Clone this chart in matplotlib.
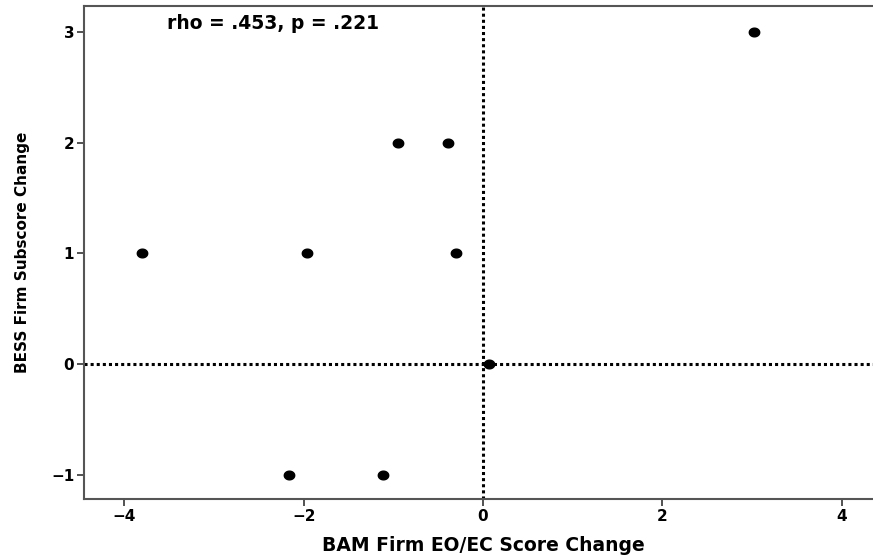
import numpy as np
import matplotlib
matplotlib.use("Agg")
import matplotlib.pyplot as plt
from matplotlib.path import Path

# BAM firm EO/EC score change vs BESS firm subscore change
bam_change = [3.02, -0.95, -0.39, -3.80, -1.96, -0.30, 0.07, -2.16, -1.12]
bess_change = [3, 2, 2, 1, 1, 1, 0, -1, -1]
x_ticks = [-4, -2, 0, 2, 4]
y_ticks = [-1, 0, 1, 2, 3]
annotation = "rho = .453, p = .221"
x_label = "BAM Firm EO/EC Score Change"
y_label = "BESS Firm Subscore Change"

plt.rcParams['font.family'] = ['DejaVu Sans']

fig = plt.figure(figsize=(8.73, 5.58), dpi=100)
ax = fig.add_axes([84 / 873, 1 - 499 / 558, (882 - 84) / 873, (499 - 6) / 558])

# slightly wide elliptical marker
t = np.linspace(0, 2 * np.pi, 40)
ellipse = Path(np.column_stack([1.2 * np.cos(t), np.sin(t)]), closed=True)

ax.axvline(0, color='black', linestyle=(0, (1, 1)), linewidth=2.2, zorder=1)
ax.axhline(0, color='black', linestyle=(0, (1, 1)), linewidth=2.2, zorder=1)
ax.plot(bam_change, bess_change, linestyle='none', marker=ellipse,
        markersize=7.5, color='black', zorder=3)

ax.set_xlim(-4.45, 4.45)
ax.set_ylim(-1.22, 3.235)
ax.set_xticks(x_ticks)
ax.set_yticks(y_ticks)
ax.set_xticklabels([str(v).replace('-', '\u2212') for v in x_ticks], fontweight='bold', fontsize=11)
ax.set_yticklabels([str(v).replace('-', '\u2212') for v in y_ticks], fontweight='bold', fontsize=11)
ax.tick_params(direction='out', length=5, width=1.3, color='#444444', pad=2)

for side in ['left', 'bottom', 'top']:
    ax.spines[side].set_color('#555555')
    ax.spines[side].set_linewidth(1.5)
ax.spines['right'].set_visible(False)

ax.set_xlabel(x_label, fontweight='bold', fontsize=13.5, labelpad=9)
ax.set_ylabel(y_label, fontweight='bold', fontsize=11, labelpad=15)

ax.text(-2.34, 3.08, annotation, ha='center', va='center',
        fontweight='bold', fontsize=13.5)

fig.savefig("out.png", dpi=100)
